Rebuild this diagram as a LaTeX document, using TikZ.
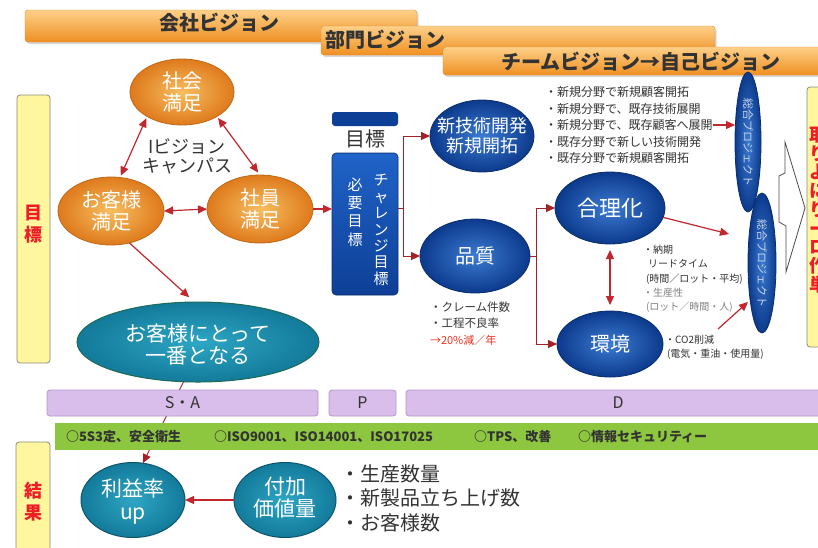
\documentclass[tikz,border=0pt]{standalone}
\usepackage{fontspec}
\setmainfont{Noto Sans CJK JP}
\usetikzlibrary{arrows.meta,shadows,calc,shapes.geometric}
\definecolor{redc}{HTML}{C1272D}
\definecolor{banT}{HTML}{FDD089}
\definecolor{banB}{HTML}{F09022}
\definecolor{banD}{HTML}{E08A2A}
\definecolor{orI}{HTML}{F8BE60}
\definecolor{orO}{HTML}{DE7A1C}
\definecolor{orD}{HTML}{C06818}
\definecolor{blI}{HTML}{3C7BD2}
\definecolor{blO}{HTML}{0C3A8C}
\definecolor{blD}{HTML}{0A2E6A}
\definecolor{tlI}{HTML}{2EA6C4}
\definecolor{tlO}{HTML}{137A9A}
\definecolor{tlD}{HTML}{1E6B55}
\definecolor{yel}{HTML}{FFF69E}
\definecolor{yelD}{HTML}{8A8A80}
\definecolor{pur}{HTML}{D9BDEA}
\definecolor{purD}{HTML}{B595CC}
\definecolor{grn}{HTML}{8DC63F}
\definecolor{labred}{HTML}{EE1C25}
\definecolor{txt}{HTML}{333333}
\definecolor{boxT}{HTML}{2063C8}
\definecolor{boxB}{HTML}{0E3F96}
\definecolor{sogT}{HTML}{C9D5EA}
\begin{document}
\begin{tikzpicture}[x=1pt,y=-1pt,
  every node/.style={inner sep=0pt, outer sep=0pt},
  arr/.style={draw=redc, line width=1.2pt, -{Triangle[length=9pt,width=8pt]}},
  darr/.style={draw=redc, line width=1.2pt, {Triangle[length=9pt,width=8pt]}-{Triangle[length=9pt,width=8pt]}},
  thinarr/.style={draw=redc!85!black, line width=0.9pt, -{Triangle[length=9pt,width=8pt]}},
  thinline/.style={draw=redc!85!black, line width=0.9pt},
  bannerbox/.style={rounded corners=3pt, top color=banT, bottom color=banB, draw=banD, line width=0.4pt,
     drop shadow={shadow xshift=1.5pt, shadow yshift=-2pt, opacity=0.3}},
  bantext/.style={font=\bfseries\fontsize{20}{20}\selectfont, text=txt},
  ybox/.style={rectangle, rounded corners=3pt, fill=yel, draw=yelD, line width=0.8pt, anchor=north west},
  redlabel/.style={font=\bfseries\fontsize{18}{22}\selectfont, text=labred, align=center},
  oell/.style={ellipse, inner color=orI, outer color=orO, draw=orD, line width=0.8pt},
  bell/.style={ellipse, inner color=blI, outer color=blO, draw=blD, line width=0.8pt},
  tell/.style={ellipse, inner color=tlI, outer color=tlO, draw=tlD, line width=1pt},
  wtext/.style={text=white, align=center, font=\fontsize{20}{22}\selectfont},
  note/.style={anchor=west, text=txt, font=\fontsize{12}{12}\selectfont},
  small/.style={anchor=west, text=txt, font=\fontsize{10}{10}\selectfont},
  pbar/.style={rectangle, rounded corners=3pt, fill=pur, draw=purD, line width=0.8pt, text=txt, font=\fontsize{16}{16}\selectfont},
  gtext/.style={anchor=west, text=txt, font=\bfseries\fontsize{13}{13}\selectfont},
  sogtext/.style={text=sogT, rotate=-90, font=\fontsize{11}{11}\selectfont}
]
\fill[white] (0,0) rectangle (818,547);
\clip (0,0) rectangle (818,547);

% banners
\path[bannerbox] (25,10) rectangle (417,42);
\node[bantext] (b1) at (219,23) {会社ビジョン};
\path[bannerbox] (321,26) rectangle (715,55);
\node[bantext, anchor=west] (b2) at (325,40) {部門ビジョン};
\path[bannerbox] (443,47) rectangle (830,75);
\node[bantext] (b3) at (641,62) {チームビジョン→自己ビジョン};

% left yellow boxes
\node[ybox, minimum width=33pt, minimum height=268pt] (ymk) at (17,95) {};
\node[redlabel] (ymkT) at (33,224) {目\\標};
\node[ybox, minimum width=34pt, minimum height=120pt] (ykk) at (16,442) {};
\node[redlabel] (ykkT) at (33,502) {結\\果};

% right yellow box
\node[ybox, minimum width=40pt, minimum height=260pt] (yr) at (807,87) {};
\node[text=labred, align=center, font=\bfseries\fontsize{18}{18.75}\selectfont] (yrT) at (818,210) {取\\り\\よ\\に\\り\\ー\\ロ\\作\\単};

% orange ellipses
\node[oell, minimum width=104pt, minimum height=66pt] (shakai) at (182,92) {};
\node[wtext] (shakaiT) at (shakai) {社会\\満足};
\node[oell, minimum width=106pt, minimum height=68pt] (oky) at (111,211) {};
\node[wtext] (okyT) at (oky) {お客様\\満足};
\node[oell, minimum width=106pt, minimum height=68pt] (shain) at (260,209) {};
\node[wtext] (shainT) at (shain) {社員\\満足};
\node[text=txt, align=center, font=\fontsize{18}{19}\selectfont] (ivc) at (187,156) {Iビジョン\\キャンパス};

% teal ellipse
\node[tell, minimum width=242pt, minimum height=80pt] (teal) at (198,342) {};
\node[wtext, font=\fontsize{21}{22}\selectfont] (tealT) at (198,345) {お客様にとって\\一番となる};

% 目標 box
\path[fill=boxB, rounded corners=3pt] (332,112) rectangle (398,126);
\node[text=txt, font=\fontsize{20}{20}\selectfont] (mkh) at (365,139) {目標};
\node[rectangle, rounded corners=4pt, top color=boxT, bottom color=boxB, draw=blD, line width=0.6pt,
      minimum width=66pt, minimum height=142pt] (box) at (365,224) {};
\node[text=white, align=center, font=\fontsize{15}{18.3}\selectfont] (hitsu) at (355,212) {必\\要\\目\\標};
\node[text=white, align=center, font=\fontsize{15}{16.4}\selectfont] (chal) at (381,230) {チ\\ャ\\レ\\ン\\ジ\\目\\標};

% blue ellipses
\node[bell, minimum width=104pt, minimum height=72pt] (shin) at (482,136) {};
\node[wtext, font=\fontsize{18}{20}\selectfont] (shinT) at (shin) {新技術開発\\新規開拓};
\node[bell, minimum width=110pt, minimum height=74pt] (hin) at (475,256) {};
\node[wtext] (hinT) at (hin) {品質};
\node[bell, minimum width=110pt, minimum height=72pt] (gor) at (610,208) {};
\node[wtext, font=\fontsize{22}{22}\selectfont] (gorT) at (gor) {合理化};
\node[bell, minimum width=106pt, minimum height=66pt] (kan) at (610,344) {};
\node[wtext] (kanT) at (kan) {環境};

% notes
\node[note] (l1) at (545,92) {・新規分野で新規顧客開拓};
\node[note] (l2) at (545,108.5) {・新規分野で、既存技術展開};
\node[note] (l3) at (545,125) {・新規分野で、既存顧客へ展開};
\node[note] (l4) at (545,141.5) {・既存分野で新しい技術開発};
\node[note] (l5) at (545,158) {・既存分野で新規顧客開拓};

\node[note, font=\fontsize{11.5}{11.5}\selectfont] (q1) at (430,307) {・クレーム件数};
\node[note, font=\fontsize{11.5}{11.5}\selectfont] (q2) at (430,323) {・工程不良率};
\node[note, font=\fontsize{11}{11}\selectfont, text=labred!80!orange] (q3) at (430,340) {→20\%減／年};

\node[small] (n1) at (643,250) {・納期};
\node[small] (n2) at (648,264) {リードタイム};
\node[small] (n3) at (646,279) {(時間／ロット・平均)};
\node[small, text=gray] (n4) at (643,293) {・生産性};
\node[small, text=gray] (n5) at (646,307) {(ロット／時間・人)};
\node[small] (n6) at (665,340) {・CO2削減};
\node[small] (n7) at (667,354) {(電気・重油・使用量)};

% 総合プロジェクト
\node[bell, minimum width=26pt, minimum height=140pt] (sog1) at (748,142) {};
\node[sogtext] (sog1T) at (sog1) {総合プロジェクト};
\node[bell, minimum width=28pt, minimum height=140pt] (sog2) at (762,263) {};
\node[sogtext] (sog2T) at (sog2) {総合プロジェクト};

% big outlined arrow
\draw[line width=0.8pt, draw=black!70, fill=white] (785,142) -- (785,173) -- (779,176) -- (779,222) -- (786,226) -- (786,272) -- (805,208) -- cycle;

% bottom circles
\node[tell, draw=tlO!70!black, minimum width=104pt, minimum height=75pt] (rie) at (133,500) {};
\node[wtext, font=\fontsize{21}{23}\selectfont] (rieT) at (133,502) {利益率\\up};
\node[tell, draw=tlO!70!black, minimum width=102pt, minimum height=75pt] (fuka) at (285,500) {};
\node[wtext, font=\fontsize{21}{22}\selectfont] (fukaT) at (285,498) {付加\\価値量};

\node[anchor=west, text=txt, font=\fontsize{20}{20}\selectfont] (r1) at (340,474) {・生産数量};
\node[anchor=west, text=txt, font=\fontsize{20}{20}\selectfont] (r2) at (340,498) {・新製品立ち上げ数};
\node[anchor=west, text=txt, font=\fontsize{20}{20}\selectfont] (r3) at (340,523) {・お客様数};

% arrow behind bars
\draw[thinarr] (teal.-110) -- (rie.75);

% bars
\node[pbar, minimum width=271pt, minimum height=26pt] (sa) at (182.5,403) {S・A};
\node[pbar, minimum width=67pt, minimum height=26pt] (p) at (362.5,403) {P};
\node[pbar, minimum width=424pt, minimum height=26pt] (d) at (618,403) {D};
\node[rectangle, fill=grn, minimum width=775pt, minimum height=27pt, anchor=west] (green) at (55,436.5) {};
\node[gtext] (g1) at (66,437) {○5S3定、安全衛生};
\node[gtext] (g2) at (214,437) {○ISO9001、ISO14001、ISO17025};
\node[gtext] (g3) at (474,437) {○TPS、改善};
\node[gtext] (g4) at (578,437) {○情報セキュリティー};

% connectors
\draw[darr, shorten <=2pt, shorten >=2pt] (shakai.-145) -- (oky.75);
\draw[darr, shorten <=2pt, shorten >=3pt] (shakai.-35) -- (shain.90);
\draw[darr] (oky.east) -- (shain.west);
\draw[arr] (shain.east) -- (shain.east -| box.west);
\draw[arr, shorten >=7pt] (oky.-60) -- (teal.95);

\coordinate (j1) at (403,208);
\draw[thinline] (box.east |- j1) -- (j1);
\draw[thinarr] (j1) |- (shin.west);
\draw[thinarr] (j1) |- (hin.west);
\coordinate (j2) at (536,256);
\draw[thinline] (hin.east) -- (j2);
\draw[thinarr] (j2) |- (gor.west);
\draw[thinarr] (j2) |- (kan.west);

\draw[darr, shorten <=6pt, shorten >=6pt] (gor.south) -- (kan.north);
\coordinate (a1) at (729,234);
\draw[arr] (gor.-10) -- (a1);
\coordinate (a2s) at (718,329);
\coordinate (a2e) at (748,302);
\draw[arr] (a2s) -- (a2e);
\draw[arr] (l3.east) -- (l3.east -| sog1.west);
\draw[arr] (fuka.west) -- (rie.east);
\end{tikzpicture}
\end{document}
